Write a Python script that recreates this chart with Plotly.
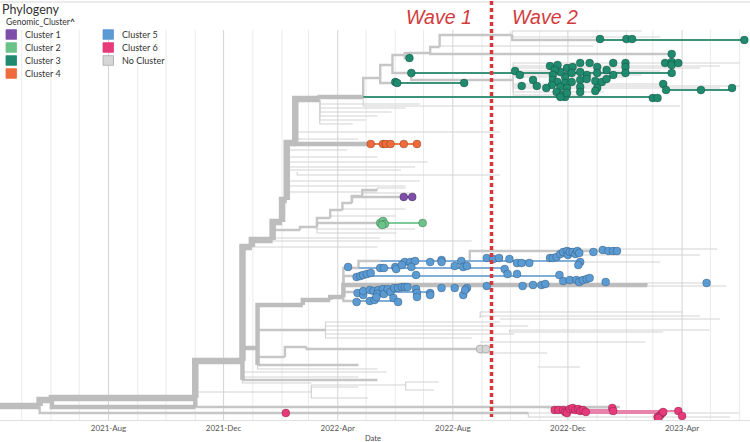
import pandas as pd
import plotly.graph_objects as go

# time is stored as days since the root of the tree, rows are the tree layout order (0 = top)
ROOT_DATE = pd.Timestamp("2021-04-08")
AXIS_END = "2023-06-12"
WAVE_SPLIT = "2022-09-11"

# tree branches: (parent_day, parent_row, child_day, child_row), drawn as elbows
TRUNK = [
    (0, 406, 42, 406), (42, 406, 55, 400), (55, 400, 207, 398), (207, 398, 257, 361),
    (257, 361, 267, 247), (267, 247, 289, 240), (289, 240, 299, 222), (299, 222, 304, 200),
    (304, 200, 313, 143), (313, 143, 339, 99),
]
MAJOR = [
    (207, 398, 207, 407), (55, 400, 207, 407), (257, 361, 257, 380), (257, 361, 273, 348),
    (273, 348, 321, 305), (273, 348, 273, 365), (321, 305, 350, 300), (350, 300, 364, 297),
    (313, 143, 393, 144), (339, 99, 385, 97), (364, 297, 686, 285),
]
MINOR = [
    (42, 406, 303, 413), (303, 413, 560, 413), (207, 407, 657, 407), (257, 380, 400, 380),
    (273, 365, 380, 365), (273, 357, 302, 357), (302, 357, 325, 347), (325, 347, 509, 349),
    (273, 340, 345, 330),
    (364, 297, 380, 268), (364, 297, 378, 276), (364, 297, 385, 292), (364, 297, 378, 301),
    (380, 268, 403, 261), (498, 261, 657, 251),
    (385, 97, 403, 78), (403, 78, 416, 65), (403, 78, 421, 83), (416, 65, 429, 55),
    (416, 65, 436, 73), (429, 55, 434, 58), (429, 55, 456, 53), (456, 53, 466, 47),
    (456, 53, 712, 54), (466, 47, 543, 35), (436, 73, 544, 80), (543, 35, 636, 40),
    (289, 240, 318, 230), (318, 230, 336, 227), (336, 227, 403, 223), (373, 203, 427, 197),
    (336, 227, 350, 218), (350, 218, 363, 210), (363, 210, 373, 203), (373, 203, 384, 196),
    (384, 196, 400, 190),
]
TWIGS = [
    # cluster 3 bundle
    (544, 80, 784, 63), (544, 80, 763, 66), (544, 80, 742, 68), (544, 80, 700, 71),
    (544, 80, 680, 75), (544, 80, 663, 77), (544, 80, 700, 84), (544, 80, 784, 86),
    (544, 80, 763, 88), (544, 80, 640, 92), (544, 80, 620, 95),
    (339, 100, 445, 104), (339, 100, 430, 108), (339, 100, 415, 112), (339, 100, 400, 116),
    (339, 100, 388, 120), (339, 100, 374, 124), (385, 97, 721, 106),
    (315, 143, 530, 132), (315, 143, 380, 139),
    (543, 35, 680, 31), (543, 35, 700, 37), (466, 47, 629, 46),
    # between cluster 4 and cluster 1
    (304, 152, 368, 150), (304, 156, 400, 157), (304, 162, 453, 162), (304, 166, 440, 167),
    (304, 170, 425, 170), (315, 172, 530, 175), (304, 180, 445, 181), (304, 185, 430, 186),
    (304, 190, 400, 192),
    (350, 218, 420, 216), (363, 210, 430, 209), (384, 196, 440, 193), (400, 190, 430, 188),
    (336, 227, 440, 229), (336, 227, 420, 233),
    (289, 240, 403, 238), (267, 247, 400, 247), (289, 240, 500, 241),
    # around cluster 5
    (600, 251, 760, 249), (610, 253, 742, 255), (618, 261, 700, 262), (686, 285, 770, 286),
    (686, 285, 749, 283),
    # below cluster 5
    (345, 330, 530, 322), (345, 330, 560, 326), (345, 330, 520, 330), (345, 330, 545, 334),
    (345, 330, 500, 338),
    (509, 318, 742, 316), (509, 318, 724, 312), (530, 319, 763, 319), (540, 330, 752, 330),
    (540, 330, 703, 332), (509, 342, 684, 342), (509, 350, 580, 353), (570, 367, 615, 367),
    (257, 380, 380, 377), (257, 380, 410, 372), (273, 365, 400, 369), (257, 380, 330, 383),
    (207, 398, 330, 392), (330, 392, 380, 387), (330, 392, 390, 398), (330, 392, 430, 385),
    (430, 385, 465, 382), (430, 385, 460, 390),
    # bottom, cluster 6
    (530, 413, 784, 413), (560, 413, 774, 417), (580, 407, 650, 408),
]

# branches inside a cluster, drawn in the cluster colour
C3_EDGES = [(385, 97, 697, 97), (636, 40, 789, 40), (421, 83, 492, 83), (436, 73, 712, 73),
            (706, 90, 776, 90), (705, 63, 719, 63)]
C5_EDGES = [(380, 268, 535, 268), (378, 276, 593, 276), (385, 292, 456, 292),
            (378, 301, 422, 301), (403, 261, 618, 261)]
C6_EDGES = [(588, 410, 650, 410), (590, 411, 723, 411), (600, 413, 703, 413)]
C4_EDGES = [(393, 144, 442, 144)]
C2_EDGES = [(408, 223, 448, 223)]
C1_EDGES = [(428, 197, 437, 197)]

# tips
C1_DAYS = [428, 437]
C1_ROWS = [197, 197]
C2_DAYS = [403, 406, 408, 405, 448]
C2_ROWS = [223, 221, 224, 225, 223]
C3_DAYS = [583, 591, 601, 607, 615, 625, 633, 650, 663, 663, 663, 650, 643, 633, 622, 615, 606,
           599, 594, 588, 586, 586, 591, 599, 606, 615, 622, 631, 638, 643, 594, 601, 615, 633,
           631, 590, 596, 599, 594, 615, 585, 601, 546, 551, 565, 553, 569, 579, 636, 664, 670,
           789, 434, 712, 436, 419, 421, 492, 692, 697, 705, 712, 712, 719, 712, 703, 706, 743, 776]
C3_ROWS = [66, 65, 68, 67, 63, 63, 67, 63, 63, 67, 73, 75, 70, 73, 75, 72, 73, 77, 72, 70, 75, 80,
           82, 83, 82, 80, 79, 81, 82, 79, 87, 88, 87, 88, 91, 92, 95, 97, 97, 92, 85, 93, 71, 75,
           80, 86, 86, 88, 39, 39, 39, 40, 58, 54, 73, 82, 83, 83, 98, 98, 63, 62, 65, 63, 73, 84,
           90, 90, 88]
C4_DAYS = [393, 406, 409, 414, 428, 442]
C4_ROWS = [144, 144, 144, 144, 144, 144]
C5_DAYS = [583, 586, 590, 594, 597, 601, 602, 604, 607, 610, 612, 614, 629, 639, 645, 650, 654,
           429, 435, 440, 456, 468, 468, 489, 516, 523, 529, 540, 548, 553, 561, 615, 613,
           369, 403, 407, 419, 420, 426, 436, 482, 491, 495, 535,
           378, 382, 385, 389, 393, 441, 538, 548, 593,
           554, 565, 574, 578, 597, 604, 611, 614, 618, 622, 625, 642, 749,
           468, 482, 495, 516,
           379, 385, 385, 392, 396, 401, 400, 406, 407, 411, 414, 418, 422, 426, 429, 432, 441,
           442, 456,
           378, 392, 397, 399, 417, 422, 442, 456, 491, 493]
C5_ROWS = [258, 258, 257, 254, 252, 251, 255, 252, 252, 254, 251, 253, 252, 250, 251, 251, 251,
           262, 262, 261, 262, 260, 262, 261, 258, 259, 258, 259, 263, 263, 263, 262, 265,
           267, 268, 268, 267, 269, 265, 267, 266, 267, 266, 269,
           277, 276, 275, 274, 273, 275, 274, 274, 275,
           286, 285, 285, 284, 281, 280, 280, 282, 280, 279, 278, 282, 283,
           288, 288, 288, 286,
           293, 295, 291, 290, 291, 290, 294, 289, 294, 289, 292, 288, 288, 287, 287, 287, 289,
           293, 293,
           302, 301, 300, 297, 298, 302, 297, 295, 295, 290]
C6_DAYS = [303, 588, 592, 597, 599, 601, 604, 607, 610, 613, 615, 618, 621, 649, 650, 697, 700,
           702, 703, 698, 719, 723]
C6_ROWS = [413, 410, 410, 410, 412, 413, 409, 408, 410, 409, 411, 410, 412, 408, 411, 417, 415,
           413, 412, 418, 411, 416]
NC_DAYS = [509, 515]
NC_ROWS = [349, 349]

CLUSTERS = ["Cluster 1", "Cluster 2", "Cluster 3", "Cluster 4", "Cluster 5", "Cluster 6",
            "No Cluster"]
COLORS = ["#7D4FA8", "#6CC38A", "#1F8A6E", "#EE6B3B", "#5A9BD4", "#E63A7A", "#D6D6D6"]
EDGE_COLORS = ["#8D6AB5", "#7CCB98", "#3C937A", "#EE7A4E", "#82AED8", "#E884AC"]


def to_date(days):
    return ROOT_DATE + pd.to_timedelta(days, unit="D")


def elbows(edges):
    xs, ys = [], []
    for p_day, p_row, c_day, c_row in edges:
        xs += [to_date(p_day), to_date(p_day), to_date(c_day), None]
        ys += [p_row, c_row, c_row, None]
    return xs, ys


fig = go.Figure()

for edges, width, color in [(TWIGS, 1.1, "#D3D3D3"), (MINOR, 2.4, "#C6C6C6"),
                            (MAJOR, 4.5, "#BDBDBD"), (TRUNK, 6.5, "#BDBDBD")]:
    xs, ys = elbows(edges)
    fig.add_trace(go.Scatter(x=xs, y=ys, mode="lines", hoverinfo="skip",
                             line=dict(color=color, width=width)))

cluster_edges = [C1_EDGES, C2_EDGES, C3_EDGES, C4_EDGES, C5_EDGES, C6_EDGES]
for edges, color in zip(cluster_edges, EDGE_COLORS):
    xs, ys = elbows(edges)
    fig.add_trace(go.Scatter(x=xs, y=ys, mode="lines", hoverinfo="skip",
                             line=dict(color=color, width=2.2)))

tips = [(C1_DAYS, C1_ROWS), (C2_DAYS, C2_ROWS), (C3_DAYS, C3_ROWS), (C4_DAYS, C4_ROWS),
        (C5_DAYS, C5_ROWS), (C6_DAYS, C6_ROWS), (NC_DAYS, NC_ROWS)]
for name, color, (days, rows) in zip(CLUSTERS, COLORS, tips):
    border = "#A8A8A8" if name == "No Cluster" else "rgba(0,0,0,0.25)"
    fig.add_trace(go.Scatter(
        x=[to_date(d) for d in days], y=rows, mode="markers", name=name,
        marker=dict(color=color, size=8, line=dict(color=border, width=0.8)),
    ))

# month grid, darker on the labelled months
shapes = []
for month in pd.date_range("2021-05-01", "2023-06-01", freq="MS"):
    major = month.month in (4, 8, 12)
    shapes.append(dict(type="line", xref="x", yref="y", x0=month, x1=month, y0=30, y1=420,
                       line=dict(color="#D4D4D4" if major else "#EAEAEA", width=1),
                       layer="below"))
shapes.append(dict(type="line", xref="paper", yref="y", x0=0, x1=1, y0=2, y1=2,
                   line=dict(color="#D8D8D8", width=1)))
shapes.append(dict(type="line", xref="x", yref="y", x0=WAVE_SPLIT, x1=WAVE_SPLIT, y0=1, y1=417,
                   line=dict(color="#D6363C", width=3.5, dash="4px,3px")))

annotations = [
    dict(text="<i>Wave 1</i>", x=WAVE_SPLIT, y=17, xshift=-18, xanchor="right"),
    dict(text="<i>Wave 2</i>", x=WAVE_SPLIT, y=17, xshift=18, xanchor="left"),
]
for a in annotations:
    a.update(xref="x", yref="y", yanchor="middle", showarrow=False,
             font=dict(family="Liberation Sans", size=19.5, color="#D33A3D"))

annotations.append(dict(text="Phylogeny", xref="paper", yref="y", x=0, y=9, xanchor="left",
                        yanchor="middle", showarrow=False,
                        font=dict(family="Lato", size=12.5, color="#333333")))
annotations.append(dict(text="Genomic_Cluster<b>^</b>", xref="paper", yref="y", x=4 / 750,
                        y=22, xanchor="left", yanchor="middle", showarrow=False,
                        font=dict(family="Lato", size=8.5, color="#333333")))
annotations.append(dict(text="Date", xref="paper", yref="paper", x=373 / 750, y=-0.043,
                        xanchor="center", yanchor="middle", showarrow=False,
                        font=dict(family="Lato", size=7.5, color="#444444")))

# legend boxes, two columns
for i, (name, color) in enumerate(zip(CLUSTERS, COLORS)):
    col, row = (0, i) if i < 4 else (1, i - 4)
    x0 = 6 + col * 97
    yc = 34.5 + row * 13
    border = "#A8A8A8" if name == "No Cluster" else color
    shapes.append(dict(type="rect", xref="paper", yref="y", x0=x0 / 750, x1=(x0 + 10.5) / 750,
                       y0=yc - 4.8, y1=yc + 4.8, fillcolor=color,
                       line=dict(color=border, width=0.8)))
    annotations.append(dict(text=name, xref="paper", yref="y", x=(x0 + 17) / 750, y=yc,
                            xanchor="left", yanchor="middle", showarrow=False,
                            font=dict(family="Lato", size=9, color="#333333")))

fig.update_layout(
    width=750, height=442,
    margin=dict(l=0, r=0, t=0, b=22),
    paper_bgcolor="white", plot_bgcolor="white",
    showlegend=False,
    shapes=shapes, annotations=annotations,
    xaxis=dict(type="date", range=[ROOT_DATE, AXIS_END], showgrid=False, zeroline=False,
               tick0="2021-08-01", dtick="M4", tickformat="%Y-%b",
               tickfont=dict(family="Lato", size=8, color="#555555"),
               showline=True, linecolor="#E0E0E0", ticks=""),
    yaxis=dict(range=[420, 0], visible=False),
)

# the page's default body margin would push the figure off its 750x442 window
fig.write_html("out.html", config={"displayModeBar": False},
               post_script="document.body.style.margin = '0';")
